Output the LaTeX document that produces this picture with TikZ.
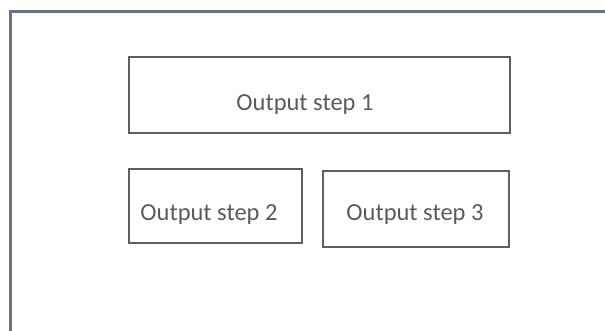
\documentclass[tikz,border=0pt]{standalone}
\usepackage{fontspec}
\setmainfont{Carlito}
\begin{document}
\begin{tikzpicture}[x=1pt,y=-1pt,
  framel/.style={draw=frameclr,line width=2.6pt},
  stepbox/.style={draw=boxclr,line width=1.1pt,rectangle,inner sep=0pt},
  lbl/.style={text=txtclr,font=\fontsize{24.5}{28}\selectfont,inner sep=0pt,anchor=base}]
\definecolor{frameclr}{HTML}{6C7282}
\definecolor{boxclr}{HTML}{5E5E5E}
\definecolor{txtclr}{HTML}{5A5A5A}
\useasboundingbox (0,0) rectangle (605,330);
\coordinate (fb) at (10.5,331);
\coordinate (ftl) at (10.5,11.5);
\coordinate (fr) at (606,11.5);
\draw[framel] (fb) -- (ftl) -- (fr);
\node[stepbox,minimum width=381pt,minimum height=76pt] (b1) at (319.5,95) {};
\node[stepbox,minimum width=173pt,minimum height=74pt] (b2) at (215.5,206) {};
\node[stepbox,minimum width=186pt,minimum height=76pt] (b3) at (416,209) {};
\node[lbl] (t1) at (305,110) {Output step 1};
\node[lbl] (t2) at (209,220) {Output step 2};
\node[lbl] (t3) at (415,220) {Output step 3};
\end{tikzpicture}
\end{document}
